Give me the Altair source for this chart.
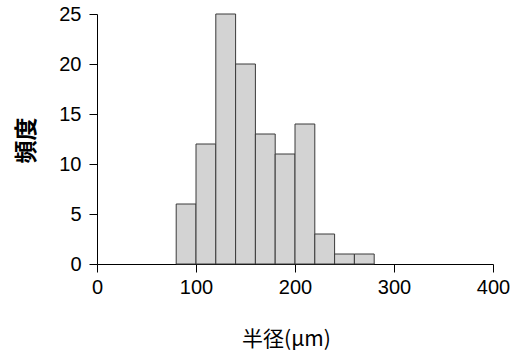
import altair as alt
import pandas as pd

bin_start = [80, 100, 120, 140, 160, 180, 200, 220, 240, 260]
bin_end = [100, 120, 140, 160, 180, 200, 220, 240, 260, 280]
counts = [6, 12, 25, 20, 13, 11, 14, 3, 1, 1]
x_ticks = [0, 100, 200, 300, 400]
y_ticks = [0, 5, 10, 15, 20, 25]

df = pd.DataFrame({"start": bin_start, "end": bin_end, "count": counts})

chart = alt.Chart(df).mark_rect(
    fill="#d3d3d3", stroke="#3a3a3a", strokeWidth=1
).encode(
    x=alt.X("start:Q", scale=alt.Scale(domain=[0, 400], nice=False, zero=False),
            axis=alt.Axis(values=x_ticks, title="半径(μm)", grid=False,
                          domainColor="black", tickColor="black", tickSize=8,
                          labelFont="Liberation Sans", labelFontSize=20, labelColor="black",
                          labelPadding=5, labelFlush=False,
                          titleFont="Noto Sans CJK JP", titleFontSize=21, titleFontWeight="normal",
                          titleColor="black", titleX=189, titleY=81, titleAlign="center",
                          titleBaseline="alphabetic")),
    x2="end:Q",
    y=alt.Y("count:Q", scale=alt.Scale(domain=[0, 25], nice=False),
            axis=alt.Axis(values=y_ticks, title="頻度", grid=False,
                          domainColor="black", tickColor="black", tickSize=8,
                          labelFont="Liberation Sans", labelFontSize=20, labelColor="black",
                          labelPadding=8, labelFlush=False,
                          titleFont="Noto Sans CJK JP", titleFontSize=23, titleFontWeight="bold",
                          titleColor="black", titleX=-71, titleY=126, titleAngle=-90,
                          titleAlign="center", titleBaseline="middle")),
    y2=alt.datum(0),
).properties(
    width=396, height=250,
    background="white",
    autosize=alt.AutoSizeParams(type="none"),
    padding={"left": 97, "top": 14, "right": 23, "bottom": 90},
).configure_view(stroke=None)

chart.save("out.html", embed_options={"renderer": "svg", "actions": False})
